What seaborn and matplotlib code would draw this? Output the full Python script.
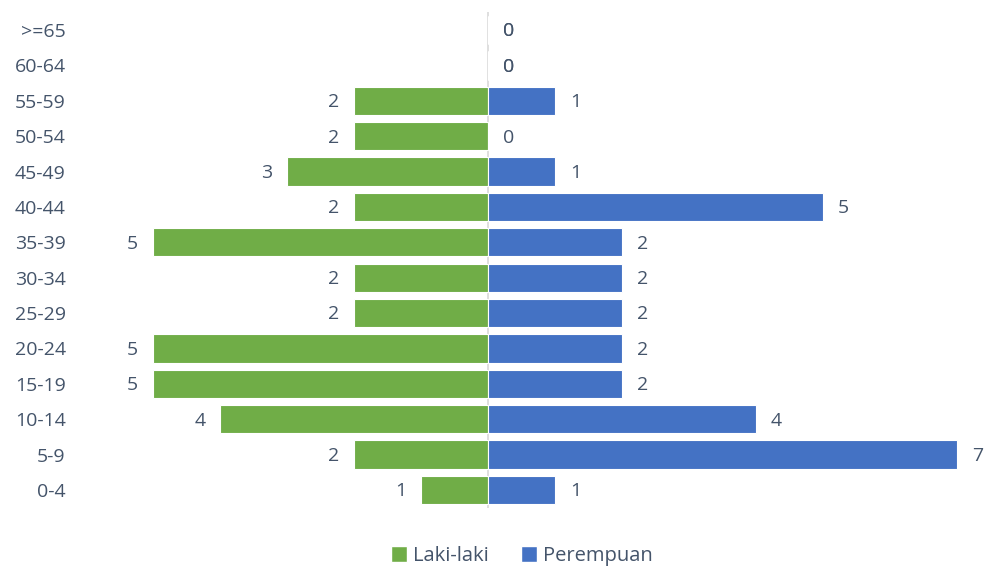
import matplotlib
matplotlib.use("Agg")
import matplotlib.pyplot as plt
import seaborn as sns
import pandas as pd
from matplotlib.patches import Patch

groups = [">=65", "60-64", "55-59", "50-54", "45-49", "40-44", "35-39",
          "30-34", "25-29", "20-24", "15-19", "10-14", "5-9", "0-4"]
laki = [0, 0, 2, 2, 3, 2, 5, 2, 2, 5, 5, 4, 2, 1]
perempuan = [0, 0, 1, 0, 1, 5, 2, 2, 2, 2, 2, 4, 7, 1]

GREEN = "#70AD47"
BLUE = "#4472C4"
TXT = "#44546A"
FS = 14

sns.set_theme(style="white")
plt.rcParams["font.family"] = ["Open Sans", "DejaVu Sans"]

fig = plt.figure(figsize=(9.85, 5.68), dpi=100)
W, H = 985, 568
scale = 67.0
x0 = 488
xl, xr = -6.2, 7.4
left_px = x0 + xl * scale
right_px = x0 + xr * scale
row = 35.4
top_px = 30 - row / 2
bot_px = 490 + row / 2
ax = fig.add_axes([left_px / W, 1 - bot_px / H, (right_px - left_px) / W, (bot_px - top_px) / H])

df = pd.DataFrame({"group": groups * 2,
                   "value": [-v for v in laki] + perempuan,
                   "sex": ["Laki-laki"] * len(groups) + ["Perempuan"] * len(groups)})

ax.axvline(0, color="#D9D9D9", lw=1.2, zorder=0)
sns.barplot(data=df[df.sex == "Laki-laki"], x="value", y="group", order=groups,
            color=GREEN, orient="h", width=0.8, ax=ax, edgecolor="white", linewidth=0.8,
            saturation=1)
sns.barplot(data=df[df.sex == "Perempuan"], x="value", y="group", order=groups,
            color=BLUE, orient="h", width=0.8, ax=ax, edgecolor="white", linewidth=0.8,
            saturation=1)

ax.set_xlim(xl, xr)
ax.set_ylim(len(groups) - 0.5, -0.5)
for s in ax.spines.values():
    s.set_visible(False)
ax.set_xticks([])
ax.set_xlabel("")
ax.set_ylabel("")
ax.tick_params(axis="y", length=0, pad=5, labelsize=FS, labelcolor=TXT)

off = 0.22
dy = 0.04
for i, g in enumerate(groups):
    m = laki[i]
    f = perempuan[i]
    if m > 0:
        ax.text(-m - off, i + dy, str(m), ha="right", va="center", fontsize=FS, color=TXT)
    else:
        ax.text(off, i + dy, "0", ha="left", va="center", fontsize=FS, color=TXT)
    ax.text(f + off, i + dy, str(f), ha="left", va="center", fontsize=FS, color=TXT)

handles = [Patch(facecolor=GREEN, label="Laki-laki"), Patch(facecolor=BLUE, label="Perempuan")]
fig.legend(handles=handles, loc="center", bbox_to_anchor=(522 / W, 1 - 556 / H), ncol=2,
           frameon=False, fontsize=14.5, labelcolor=TXT, handlelength=0.8, handleheight=0.8,
           handletextpad=0.3, columnspacing=1.6)

fig.savefig("out.png", dpi=100)
